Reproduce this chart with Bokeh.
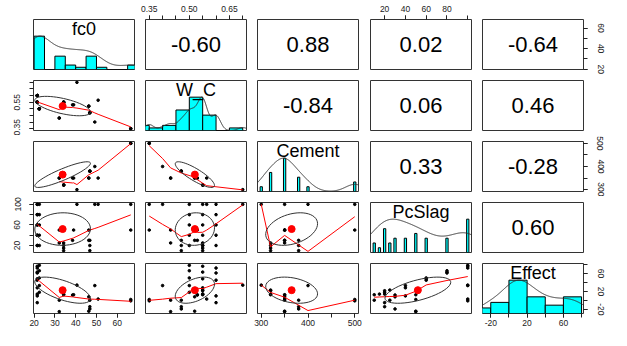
import numpy as np
from bokeh.plotting import figure
from bokeh.models import Range1d, LinearAxis, FixedTicker, PrintfTickFormatter
from bokeh.layouts import gridplot
from bokeh.embed import file_html
from bokeh.resources import INLINE
from bokeh.core.properties import value

NaN = float("nan")

var_names = ["fc0", "W_C", "Cement", "PcSlag", "Effect"]

fc0 = [66.5, 66.5, 40.6, 49.2, 50.8, 46.3, 46.3, 46.8, 46.8, 46.8, 32.1, 32.1,
       34.2, 34.2, 34.2, 34.2, 39.0, 38.5,
       22.5, 22.5, 22.5, 22.5, 22.5, 21.5, 21.5, 21.5, 21.5, 21.5,
       21.5, 21.5, 21.5, 21.5, 21.5]
W_C = [0.35, 0.35, 0.70, 0.40, 0.565, 0.52, 0.52, 0.47, 0.47, 0.47, 0.43, 0.43,
       0.55, 0.55, 0.55, 0.55, 0.53, 0.53,
       0.50, 0.50, 0.50, 0.50, 0.50, 0.55, 0.55, 0.55, 0.55, 0.55,
       0.60, 0.60, 0.60, 0.60, 0.60]
Cement = [500, 500, 300, 400, 350, 350, 350, 380, 380, 380, 350, 350,
          320, 320, 320, 320, 350, 350,
          NaN, NaN, NaN, NaN, NaN, NaN, NaN, NaN, NaN, NaN,
          NaN, NaN, NaN, NaN, NaN]
PcSlag = [100, 50, 100, 100, 100, 50, 30, 30, 20, 10, 25, 50,
          25, 20, 15, 10, 50, 30,
          100, 80, 60, 40, 20, 100, 80, 60, 40, 20,
          100, 80, 60, 40, 20]
Effect = [-1, 2, 34, 33, 3, -24, 8, -19, -14, 0.5, 0.5, -25,
          23, 21.5, 14, 12.6, 12.6, 12,
          78, 66, 50, 33, 18, 76, 63, 48, 28, 14,
          72, 61, 45, 10, -5]

# correlations printed in the upper panels
cor_pairs = [("fc0", "W_C"), ("fc0", "Cement"), ("fc0", "PcSlag"), ("fc0", "Effect"),
             ("W_C", "Cement"), ("W_C", "PcSlag"), ("W_C", "Effect"),
             ("Cement", "PcSlag"), ("Cement", "Effect"), ("PcSlag", "Effect")]
cor_values = [-0.60, 0.88, 0.02, -0.64, -0.84, 0.06, 0.46, 0.33, -0.28, 0.60]

# histogram breaks (continuous variables)
fc0_breaks = [20, 25, 30, 35, 40, 45, 50, 55, 60, 65, 70]
wc_breaks = [0.30, 0.35, 0.40, 0.45, 0.50, 0.55, 0.60, 0.65, 0.70]
effect_breaks = [-40, -20, 0, 20, 40, 60, 80]

# axis ticks and tick labels
fc0_ticks = [20, 30, 40, 50, 60]
wc_ticks = [0.35, 0.40, 0.45, 0.50, 0.55, 0.60, 0.65, 0.70]
cement_ticks = [300, 350, 400, 450, 500]
pcslag_ticks = [20, 40, 60, 80, 100]
effect_ticks = [-20, 0, 20, 40, 60, 80]

top_labels = {"W_C": [0.35, 0.50, 0.65], "PcSlag": [20, 40, 60, 80]}
bottom_labels = {"fc0": [20, 30, 40, 50, 60], "Cement": [300, 400, 500], "Effect": [-20, 20, 60]}
left_labels = {"W_C": [0.35, 0.55], "PcSlag": [20, 60, 100]}
right_labels = {"fc0": [20, 40, 60], "Cement": [300, 400, 500], "Effect": [-20, 20, 60]}

# ---------------- helpers ----------------
data = {"fc0": np.array(fc0, float), "W_C": np.array(W_C, float),
        "Cement": np.array(Cement, float), "PcSlag": np.array(PcSlag, float),
        "Effect": np.array(Effect, float)}
breaks = {"fc0": fc0_breaks, "W_C": wc_breaks, "Effect": effect_breaks}
ticks = {"fc0": fc0_ticks, "W_C": wc_ticks, "Cement": cement_ticks,
         "PcSlag": pcslag_ticks, "Effect": effect_ticks}
fmt = {"fc0": "%d", "W_C": "%.2f", "Cement": "%d", "PcSlag": "%d", "Effect": "%d"}
cor = {}
for (a, b), r in zip(cor_pairs, cor_values):
    cor[(a, b)] = r
    cor[(b, a)] = r


def usr(v):
    v = v[np.isfinite(v)]
    lo, hi = v.min(), v.max()
    d = 0.04 * (hi - lo)
    return lo - d, hi + d


def lowess(x, y, f=2 / 3, iters=3):
    o = np.argsort(x, kind="stable")
    x = np.asarray(x, float)[o]
    y = np.asarray(y, float)[o]
    n = len(x)
    rng = x[-1] - x[0]
    delta = 0.01 * rng
    ns = max(min(int(f * n + 1e-7), n), 2)
    ys = np.zeros(n)
    state = {"rw": np.ones(n)}

    def lowest(xs, nleft, nright, userw):
        h = max(xs - x[nleft], x[nright] - xs)
        h9, h1 = 0.999 * h, 0.001 * h
        w = np.zeros(n)
        a = 0.0
        j = nleft
        while j < n:
            r = abs(x[j] - xs)
            if r <= h9:
                w[j] = 1.0 if r <= h1 else (1 - (r / h) ** 3) ** 3
                if userw:
                    w[j] *= state["rw"][j]
                a += w[j]
            elif x[j] > xs:
                break
            j += 1
        nrt = j - 1
        if a <= 0:
            return None
        sl = slice(nleft, nrt + 1)
        w[sl] /= a
        if h > 0:
            a = np.sum(w[sl] * x[sl])
            b = xs - a
            c = np.sum(w[sl] * (x[sl] - a) ** 2)
            if np.sqrt(c) > 0.001 * rng:
                b /= c
                w[sl] *= (b * (x[sl] - a) + 1)
        return np.sum(w[sl] * y[sl])

    it = 1
    while it <= iters + 1:
        nleft, nright, last, i = 0, ns - 1, -1, 0
        while True:
            if nright < n - 1:
                d1 = x[i] - x[nleft]
                d2 = x[nright + 1] - x[i]
                if d1 > d2:
                    nleft += 1
                    nright += 1
                    continue
            v = lowest(x[i], nleft, nright, it > 1)
            ys[i] = v if v is not None else y[i]
            if last < i - 1:
                den = x[i] - x[last]
                for j in range(last + 1, i):
                    al = (x[j] - x[last]) / den
                    ys[j] = al * ys[i] + (1 - al) * ys[last]
            last = i
            cut = x[last] + delta
            i = last + 1
            while i < n:
                if x[i] > cut:
                    break
                if x[i] == x[last]:
                    ys[i] = ys[last]
                    last = i
                i += 1
            i = max(last + 1, i - 1)
            if last >= n - 1:
                break
        res = y - ys
        if it > iters:
            break
        sc = np.mean(np.abs(res))
        cmad = 6 * np.median(np.abs(res))
        if cmad < 1e-7 * sc:
            break
        r = np.abs(res)
        state["rw"] = np.where(r <= 0.001 * cmad, 1.0,
                               np.where(r <= 0.999 * cmad, (1 - (r / cmad) ** 2) ** 2, 0.0))
        it += 1
    return x, ys


def kde(v):
    v = v[np.isfinite(v)]
    n = len(v)
    sd = v.std(ddof=1)
    q75, q25 = np.percentile(v, [75, 25])
    lo = min(sd, (q75 - q25) / 1.34)
    if lo == 0:
        lo = sd
    bw = 0.9 * lo * n ** -0.2
    gx = np.linspace(v.min() - 3 * bw, v.max() + 3 * bw, 512)
    gy = np.exp(-0.5 * ((gx[:, None] - v[None, :]) / bw) ** 2).sum(axis=1)
    return gx, gy / gy.max()


def ellipse(xm, ym, xs, ys, r, segs=51):
    ang = np.arange(segs + 1) * 2 * np.pi / segs
    th = (np.sign(r) if abs(r) > 0 else 1.0) / np.sqrt(2)
    a, b = np.sqrt(1 + r), np.sqrt(1 - r)
    ex = np.cos(ang) * a * th - np.sin(ang) * b * th
    ey = np.cos(ang) * a * th + np.sin(ang) * b * th
    return ex * xs + xm, ey * ys + ym


def add_axis(p, side, var, labels, range_name=None):
    kw = {}
    if range_name is not None:
        kw["y_range_name"] = range_name
    ax = LinearAxis(ticker=FixedTicker(ticks=labels, minor_ticks=ticks[var]),
                    formatter=PrintfTickFormatter(format=fmt[var]), **kw)
    ax.axis_line_color = None
    ax.major_tick_out = 4
    ax.major_tick_in = 0
    ax.minor_tick_out = 4
    ax.minor_tick_in = 0
    ax.major_tick_line_color = "#222222"
    ax.minor_tick_line_color = "#222222"
    ax.major_label_text_font = "Liberation Sans"
    ax.major_label_text_font_size = "8.5px"
    ax.major_label_text_color = "#222222"
    if side in ("left", "right"):
        ax.major_label_orientation = "vertical"
    ax.major_label_standoff = {"above": 4, "below": 2, "left": 9, "right": 10}[side]
    p.add_layout(ax, side)


# ---------------- layout ----------------
FW, FH = 101, 50
left_b = [33, 6, 6, 7, 6]
right_b = [5, 5, 5, 5, 28]
top_b = [19, 6, 6, 6, 6]
bottom_b = [5, 5, 5, 5, 17]
FONT = value("Liberation Sans")

ranges = {v: usr(data[v]) for v in var_names}
means = {v: np.nanmean(data[v]) for v in var_names}
sds = {v: np.nanstd(data[v], ddof=1) for v in var_names}

rows = []
for i, yv in enumerate(var_names):
    row = []
    for j, xv in enumerate(var_names):
        xr = Range1d(*ranges[xv])
        yr = Range1d(0, 1.5) if i == j else Range1d(*ranges[yv])
        p = figure(frame_width=FW, frame_height=FH, x_range=xr, y_range=yr,
                   x_axis_location=None, y_axis_location=None,
                   toolbar_location=None, tools="", output_backend="svg",
                   min_border_left=left_b[j], min_border_right=right_b[j],
                   min_border_top=top_b[i], min_border_bottom=bottom_b[i])
        p.xgrid.grid_line_color = None
        p.ygrid.grid_line_color = None
        p.outline_line_color = "#333333"
        p.outline_line_width = 1
        p.background_fill_color = "white"
        p.border_fill_color = "white"

        if i == j:
            v = data[xv][np.isfinite(data[xv])]
            uniq, cnt = np.unique(v, return_counts=True)
            if len(uniq) < 11:
                ib = np.min(np.diff(uniq)) * (len(uniq) - 1) / 41
                p.quad(left=uniq - ib, right=uniq + ib, bottom=0, top=cnt / cnt.max(),
                       fill_color="#00FFFF", line_color="black", line_width=1)
            else:
                br = np.array(breaks[xv], float)
                k = np.clip(np.searchsorted(br, v, side="left") - 1, 0, len(br) - 2)
                hc = np.bincount(k, minlength=len(br) - 1)
                p.quad(left=br[:-1], right=br[1:], bottom=0, top=hc / hc.max(),
                       fill_color="#00FFFF", line_color="black", line_width=1)
            gx, gy = kde(data[xv])
            p.line(gx, gy, line_color="#333333", line_width=1)
            p.text(x=[sum(ranges[xv]) / 2], y=[1.23], text=[xv], text_align="center",
                   text_baseline="middle", text_font=FONT, text_font_size="18px",
                   text_color="black")
        elif i > j:
            x, y = data[xv], data[yv]
            ok = np.isfinite(x) & np.isfinite(y)
            p.scatter(x[ok], y[ok], size=2.6, color="black")
            lx, ly = lowess(x[ok], y[ok])
            p.line(lx, ly, line_color="red", line_width=1)
            ex, ey = ellipse(means[xv], means[yv], sds[xv], sds[yv], cor[(xv, yv)])
            p.line(ex, ey, line_color="#333333", line_width=1)
            p.scatter([means[xv]], [means[yv]], size=7, color="red")
        else:
            p.text(x=[sum(ranges[xv]) / 2], y=[sum(ranges[yv]) / 2],
                   text=["%.2f" % cor[(xv, yv)]], text_align="center",
                   text_baseline="middle", text_font=FONT, text_font_size="22px",
                   text_color="black")

        # outer axes, alternating as in pairs()
        if i == 0 and xv in top_labels:
            add_axis(p, "above", xv, top_labels[xv])
        if i == 4 and xv in bottom_labels:
            add_axis(p, "below", xv, bottom_labels[xv])
        if j == 0 and yv in left_labels:
            add_axis(p, "left", yv, left_labels[yv])
        if j == 4 and yv in right_labels:
            if i == j:
                p.extra_y_ranges = {"var": Range1d(*ranges[yv])}
                add_axis(p, "right", yv, right_labels[yv], range_name="var")
            else:
                add_axis(p, "right", yv, right_labels[yv])
        row.append(p)
    rows.append(row)

grid = gridplot(rows, toolbar_location=None)
open("out.html", "w").write(file_html(grid, INLINE))
